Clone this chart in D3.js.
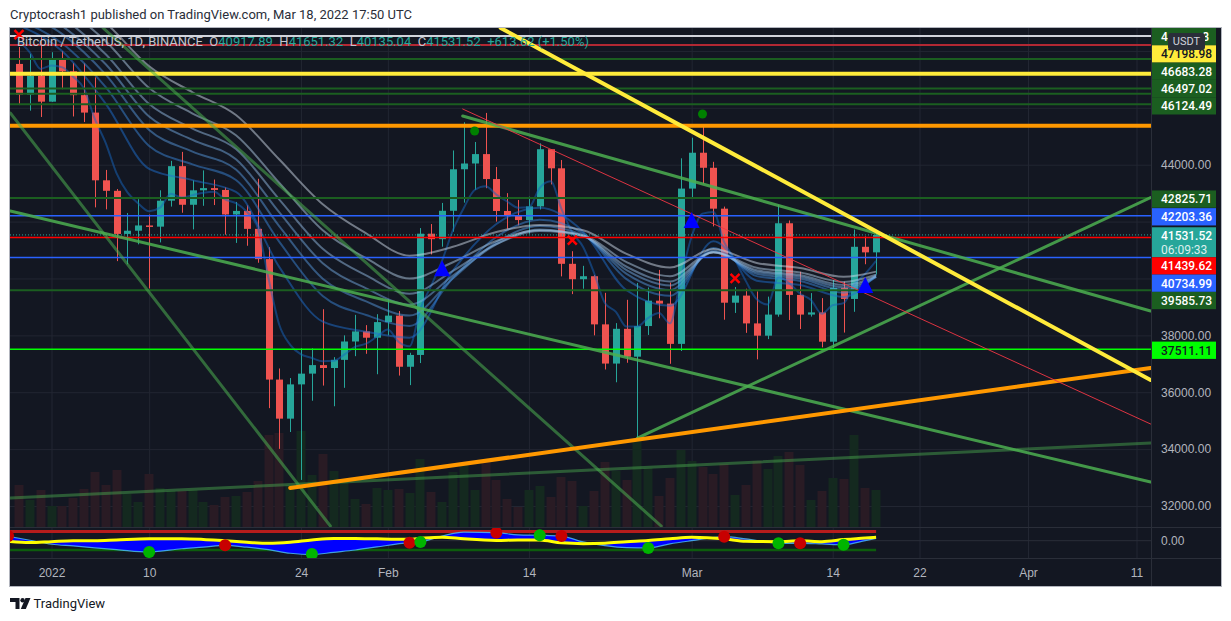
<!DOCTYPE html>
<html>
<head>
<meta charset="utf-8">
<script src="https://cdnjs.cloudflare.com/ajax/libs/d3/7.8.5/d3.min.js"></script>
<style>
  body { margin: 0; background: #fff; }
  svg { display: block; font-family: Roboto, "Liberation Sans", Arial, sans-serif; }
</style>
</head>
<body>
<svg id="chart" width="1231" height="621"></svg>
<script>
// ---- data ----
const firstCandle = Date.UTC(2021, 11, 29);
const lastCandle = Date.UTC(2022, 2, 18);

const opens = [47543, 46464, 47120, 46216, 47722, 47286, 46446, 45832, 43451, 43082,
  41566, 41679, 41864, 41822, 42735, 43949, 42591, 43099, 43177, 43113,
  42250, 42375, 41744, 40680, 36445, 35071, 36276, 36654, 36954, 36852,
  37138, 37784, 38138, 37917, 38466, 38694, 36896, 37311, 41574, 41382,
  42380, 43839, 44042, 44373, 43495, 42373, 42217, 42053, 42535, 44544,
  43873, 40515, 39974, 40079, 38386, 37008, 38230, 37250, 38327, 39219,
  39116, 37700, 43160, 44421, 43892, 42454, 39148, 39398, 38420, 37988,
  38730, 41941, 39422, 38730, 38807, 37777, 39671, 39280, 41114, 40917.89];
const highs = [48139, 47900, 48548, 47954, 47990, 47570, 47557, 47070, 43816, 43145,
  42300, 42786, 42248, 43100, 44135, 44450, 43448, 43800, 43478, 43200,
  42691, 42570, 43505, 41100, 36835, 36499, 37550, 37545, 38919, 37234,
  38000, 38720, 38359, 38744, 39265, 38855, 37387, 41772, 41913, 42656,
  44500, 45492, 44799, 45821, 43920, 43000, 42760, 42876, 44751, 44549,
  44164, 40959, 40444, 40125, 39494, 38430, 39249, 39843, 39683, 40300,
  39855, 44225, 44949, 45400, 44101, 42527, 39700, 39640, 39547, 39362,
  42594, 42039, 40236, 39486, 39309, 39947, 39887, 41718, 41478, 41651.32];
const lows = [46096, 45900, 45678, 46208, 46654, 45696, 45500, 42500, 42430, 40610,
  40501, 41200, 39650, 41268, 42528, 42311, 41725, 42555, 42581, 41540,
  41250, 41150, 40553, 35440, 34009, 34601, 32917, 35701, 36234, 35507,
  36155, 37268, 37351, 36633, 38000, 36586, 36250, 37026, 40843, 41116,
  41645, 42666, 43117, 43174, 42000, 41748, 41870, 41570, 42427, 43307,
  40073, 39450, 39639, 38000, 36800, 36350, 37036, 34322, 38014, 38600,
  37000, 37450, 42809, 43334, 41832, 38550, 38788, 38088, 37156, 37867,
  38656, 38540, 38223, 38660, 37578, 37555, 38098, 38828, 40500, 40135.04];
const closes = [46464, 47120, 46216, 47722, 47286, 46446, 45832, 43451, 43082, 41566,
  41679, 41864, 41822, 42735, 43949, 42591, 43099, 43177, 43113, 42250,
  42375, 41744, 40680, 36445, 35071, 36276, 36654, 36954, 36852, 37138,
  37784, 38138, 37917, 38466, 38694, 36896, 37311, 41574, 41382, 42380,
  43839, 44042, 44373, 43495, 42373, 42217, 42053, 42535, 44544, 43873,
  40515, 39974, 40079, 38386, 37008, 38230, 37250, 38327, 39219, 39116,
  37700, 43160, 44421, 43892, 42454, 39148, 39398, 38420, 37988, 38730,
  41941, 39422, 38730, 38807, 37777, 39671, 39280, 41114, 40917.90, 41531.52];
// volume, thousand BTC
const volumes = [42, 27, 37, 21, 21, 29, 38, 55, 42, 57,
  33, 25, 53, 39, 36, 36, 37, 25, 22, 30,
  31, 35, 46, 92, 94, 42, 96, 52, 73, 56,
  46, 28, 23, 39, 37, 38, 34, 68, 35, 25,
  55, 62, 37, 65, 47, 28, 20, 37, 41, 30,
  50, 46, 21, 36, 65, 56, 47, 89, 59, 31,
  49, 77, 66, 60, 53, 63, 32, 42, 66, 58,
  71, 75, 62, 27, 36, 49, 48, 92, 39, 37];

// EMA ribbon (fast line daily, the others every 4 days), days counted from 1 Jan 2022
const ribbonDays = [-3, 1, 5, 9, 13, 17, 21, 25, 29, 33, 37, 41, 45, 49, 53, 57, 61, 65, 69, 73, 76];
const ema5 = [48359, 47946, 47369, 47487, 47420, 47095, 46674, 45600, 44761, 43696,
  43024, 42637, 42365, 42488, 42975, 42847, 42931, 43013, 43046, 42781,
  42646, 42345, 41790, 40008, 38362, 37667, 37329, 37204, 37087, 37104,
  37331, 37600, 37706, 37959, 38204, 37768, 37616, 38935, 39751, 40627,
  41698, 42479, 43110, 43238, 42950, 42706, 42488, 42504, 43184, 43414,
  42448, 41623, 41108, 40201, 39137, 38835, 38307, 38314, 38616, 38783,
  38422, 40001, 41474, 42280, 42338, 41275, 40649, 39906, 39267, 39088,
  40039, 39833, 39465, 39246, 38756, 39061, 39134, 39794, 40168, 40622];
const ema11 = [48900, 47985, 46140, 43857, 43457, 43042, 40397, 38482, 38129, 37919, 40280, 41913, 42484, 41640, 39584, 39041, 41305, 39922, 39772, 39352, 40137];
const ema15 = [49073, 48261, 46725, 44661, 44010, 43464, 41285, 39383, 38715, 38332, 40017, 41459, 42068, 41585, 39977, 39391, 41067, 40083, 39912, 39501, 40059];
const ema18 = [49422, 48591, 47169, 45223, 44460, 43830, 41833, 39991, 39192, 38697, 40004, 41267, 41848, 41526, 40160, 39593, 40978, 40166, 39996, 39603, 40052];
const ema21 = [49696, 48869, 47532, 45694, 44870, 44191, 42323, 40536, 39651, 39078, 40099, 41200, 41719, 41491, 40295, 39754, 40932, 40231, 40065, 39690, 40063];
const ema24 = [49988, 49163, 47881, 46135, 45272, 44550, 42775, 41045, 40107, 39464, 40269, 41207, 41670, 41480, 40412, 39895, 40910, 40288, 40122, 39770, 40083];
const ema28 = [50384, 49562, 48339, 46695, 45798, 45034, 43358, 41696, 40712, 39998, 40571, 41318, 41696, 41523, 40576, 40082, 40926, 40376, 40209, 39879, 40131];
const ema34 = [50951, 50139, 48987, 47464, 46547, 45745, 44182, 42608, 41586, 40800, 41115, 41631, 41884, 41698, 40862, 40385, 41033, 40547, 40370, 40058, 40240];

// horizontal levels
const levelPrices = [48525, 48209, 47716.58, 47198.98, 46683.28, 46497.02, 46124.49, 45368,
  42825.71, 42203.36, 41439.62, 40734.99, 39585.73, 37511.11];
const levelKinds = ["white", "darkred", "green", "yellow", "green", "green", "green", "orange",
  "green", "blue", "red", "blue", "green", "lime"];
const labelled = [false, false, true, true, true, true, true, false, true, true, true, true, true, true];

// trend lines: [day1, price1, day2, price2]
const trendLines = [
  [-3.8, 42372, 101.3, 32843],
  [37.9, 45712, 101.3, 38856],
  [54.0, 34390, 101.3, 42847],
  [-3.8, 45818, 25.7, 31296],
  [4.75, 48807, 56.2, 31296],
  [-3.8, 32281, 101.3, 34214],
  [22.0, 32632, 101.3, 36850],
  [41.4, 48807, 101.3, 36430],
  [37.9, 45958, 101.3, 34883]
];
const trendKinds = ["green", "green", "green", "greenDim", "greenDim", "greenDark", "orange", "yellow", "redThin"];

// signals
const crossDays = [-3, 48, 63], crossPrices = [48571, 41352, 40006];
const triDays = [36, 59, 75], triPrices = [40357, 42056, 39770];
const dotDays = [39, 60], dotPrices = [45185, 45783];

// oscillator pane
const oscDays = [-4, -2, 0, 2, 4, 6, 9, 12, 14, 16, 18, 20, 22, 24, 26, 28, 30, 33, 34, 36,
  38, 41, 43, 45, 47, 49, 51, 53, 55, 57, 59, 62, 64, 67, 69, 71, 73, 75, 76];
const oscYellow = [-5, -12, -6, 0, 0, 5, 12, 13, 8, -1, -10, -17, -10, 5, 15, 15, 12, 9, 15, 23,
  12, 2, 5, 4, -14, -19, -16, -7, 1, 12, 22, 12, -4, -6, 0, -6, 7, 18, 22];
const oscBlue = [28, 3, -23, -34, -46, -57, -73, -52, -42, -30, -42, -58, -81, -90, -75, -60, -40, -13, -8, 30,
  55, 52, 38, 35, 30, -8, -32, -45, -47, -20, 0, 26, 12, -17, -17, -21, -26, 0, 15];
const oscDotDays = [-4, 9, 16, 24, 33, 34, 41, 45, 47, 55, 62, 67, 69, 73];
const oscDotVals = [30, -73, -30, -86, -13, -8, 52, 35, 30, -47, 26, -17, -17, -26];
const oscDotKinds = ["sell", "buy", "sell", "buy", "sell", "buy", "sell", "buy", "sell", "buy", "sell", "buy", "sell", "buy"];
const obLevel = 60, osLevel = -60;

const tickDates = ["2022-01-01", "2022-01-10", "2022-01-24", "2022-02-01", "2022-02-14",
  "2022-03-01", "2022-03-14", "2022-03-22", "2022-04-01", "2022-04-11"];
const tickLabels = ["2022", "10", "24", "Feb", "14", "Mar", "14", "22", "Apr", "11"];
const priceTicks = [32000, 34000, 36000, 38000, 40000, 42000, 44000, 46000, 48000];

// ---- layout ----
const W = 1231, H = 621;
const L = 10, R = 1151, RA = 1221, TOP = 28, MB = 527, IB = 558, BOT = 586;
const UP = "#26a69a", DN = "#ef5350";
const DAY = 864e5, T0 = Date.UTC(2022, 0, 1);
const dayDate = d => new Date(T0 + d * DAY);

const colors = {
  white: ["#d1d4dc", 2], darkred: ["#b22833", 2], green: ["#1b5e20", 2], yellow: ["#ffeb3b", 4],
  orange: ["#ff9800", 4], blue: ["#2962ff", 1.5], red: ["#ff0000", 1.5], lime: ["#00ff00", 1.5]
};
const trendStyle = {
  green: ["#4caf50", 3, 0.85], greenDim: ["#4caf50", 3, 0.55], greenDark: ["#4caf50", 3, 0.45],
  orange: ["#ff9800", 4, 1], yellow: ["#ffeb3b", 4, 1], redThin: ["#f23645", 1, 0.9]
};
const ribbonColors = ["#1565c0", "#1e6fd0", "#3a86d8", "#5698dc", "#74aadf", "#93bce3", "#b1cde6", "#cfdcea"];

const svg = d3.select("#chart");
svg.append("rect").attr("width", W).attr("height", H).attr("fill", "#fff");
svg.append("rect").attr("x", L).attr("y", TOP).attr("width", RA - L).attr("height", BOT - TOP)
  .attr("fill", "#131722");

const defs = svg.append("defs");
defs.append("clipPath").attr("id", "mainClip").append("rect")
  .attr("x", L).attr("y", TOP).attr("width", R - L).attr("height", MB - TOP);
defs.append("clipPath").attr("id", "indClip").append("rect")
  .attr("x", L).attr("y", MB).attr("width", R - L).attr("height", IB - MB);

const x = d3.scaleUtc().domain([dayDate(0), dayDate(100)]).range([51.5, 1136.5]);
const y = d3.scaleLinear().domain([32000, 44000]).range([506, 164.7]);
const yVol = d3.scaleLinear().domain([0, 100]).range([MB, MB - 100]);
const yOsc = d3.scaleLinear().domain([osLevel, obLevel]).range([550, 531.4]);
const tDates = tickDates.map(s => new Date(s + "T00:00:00Z"));

// ---- grid ----
const gridY = svg.append("g").attr("transform", `translate(${L},0)`)
  .call(d3.axisRight(y).tickValues(priceTicks).tickSize(R - L).tickFormat(""));
gridY.select(".domain").remove();
gridY.selectAll("line").attr("stroke", "#222632");
const gridX = svg.append("g").attr("transform", `translate(0,${IB})`)
  .call(d3.axisTop(x).tickValues(tDates).tickSize(IB - TOP).tickFormat(""));
gridX.select(".domain").remove();
gridX.selectAll("line").attr("stroke", "#222632");
svg.append("line").attr("x1", L).attr("x2", R).attr("y1", yOsc(0)).attr("y2", yOsc(0)).attr("stroke", "#2a2e39");

// ---- main pane ----
const main = svg.append("g").attr("clip-path", "url(#mainClip)");
const candleDates = d3.utcDay.range(new Date(firstCandle), new Date(lastCandle + DAY));
const candles = candleDates.map((d, i) => ({ d, o: opens[i], h: highs[i], l: lows[i], c: closes[i], v: volumes[i] }));
const cx = d => Math.round(x(d.d));

main.append("g").selectAll("rect").data(candles).join("rect")
  .attr("x", d => cx(d) - 4.5).attr("width", 9)
  .attr("y", d => yVol(d.v)).attr("height", d => MB - yVol(d.v))
  .attr("fill", d => d.c >= d.o ? "#14291f" : "#291b24");

main.append("g").selectAll("line").data(candles).join("line")
  .attr("x1", d => cx(d) + 0.5).attr("x2", d => cx(d) + 0.5)
  .attr("y1", d => y(d.h)).attr("y2", d => y(d.l))
  .attr("stroke", d => d.c >= d.o ? UP : DN);
main.append("g").selectAll("rect").data(candles).join("rect")
  .attr("x", d => cx(d) - 3).attr("width", 7)
  .attr("y", d => y(Math.max(d.o, d.c)))
  .attr("height", d => Math.max(1.5, Math.abs(y(d.o) - y(d.c))))
  .attr("fill", d => d.c >= d.o ? UP : DN);

// ribbon
const ribbonLine = d3.line().x(d => x(d[0])).y(d => y(d[1])).curve(d3.curveMonotoneX);
const ribbon = [candleDates.map((d, i) => [d, ema5[i]])]
  .concat([ema11, ema15, ema18, ema21, ema24, ema28, ema34]
    .map(arr => arr.map((v, i) => [dayDate(ribbonDays[i]), v])));
main.append("g").selectAll("path").data(ribbon).join("path")
  .attr("d", ribbonLine).attr("fill", "none")
  .attr("stroke", (d, i) => ribbonColors[i]).attr("stroke-width", 2).attr("stroke-opacity", 0.5);

// horizontal levels
main.append("g").selectAll("line").data(levelPrices).join("line")
  .attr("x1", L).attr("x2", R).attr("y1", d => y(d)).attr("y2", d => y(d))
  .attr("stroke", (d, i) => colors[levelKinds[i]][0])
  .attr("stroke-width", (d, i) => colors[levelKinds[i]][1]);
main.append("line").attr("x1", L).attr("x2", R)
  .attr("y1", y(closes[closes.length - 1])).attr("y2", y(closes[closes.length - 1]))
  .attr("stroke", UP).attr("stroke-dasharray", "1,2");

// trend lines
main.append("g").selectAll("line").data(trendLines).join("line")
  .attr("x1", d => x(dayDate(d[0]))).attr("y1", d => y(d[1]))
  .attr("x2", d => x(dayDate(d[2]))).attr("y2", d => y(d[3]))
  .attr("stroke", (d, i) => trendStyle[trendKinds[i]][0])
  .attr("stroke-width", (d, i) => trendStyle[trendKinds[i]][1])
  .attr("stroke-opacity", (d, i) => trendStyle[trendKinds[i]][2])
  .attr("stroke-linecap", "round");

// signals
crossDays.forEach((dd, i) => {
  const px = x(dayDate(dd)), py = y(crossPrices[i]), s = 4.5;
  main.append("path").attr("d", `M${px - s},${py - s}L${px + s},${py + s}M${px + s},${py - s}L${px - s},${py + s}`)
    .attr("stroke", "#ff0000").attr("stroke-width", 2.5);
});
main.append("g").selectAll("path").data(triDays).join("path")
  .attr("d", (dd, i) => {
    const px = x(dayDate(dd)), py = y(triPrices[i]);
    return `M${px},${py - 8}L${px + 8},${py + 8}L${px - 8},${py + 8}Z`;
  })
  .attr("fill", "#0000ff");
main.append("g").selectAll("circle").data(dotDays).join("circle")
  .attr("cx", dd => x(dayDate(dd))).attr("cy", (dd, i) => y(dotPrices[i])).attr("r", 4.5)
  .attr("fill", "#008000");

// ---- oscillator pane ----
const ind = svg.append("g").attr("clip-path", "url(#indClip)");
const oscX = d3.min(oscDays), oscEnd = d3.max(oscDays);
ind.append("line").attr("x1", x(dayDate(oscX))).attr("x2", x(dayDate(oscEnd)))
  .attr("y1", yOsc(obLevel)).attr("y2", yOsc(obLevel)).attr("stroke", "#b71c1c").attr("stroke-width", 3);
ind.append("line").attr("x1", x(dayDate(oscX))).attr("x2", x(dayDate(oscEnd)))
  .attr("y1", yOsc(osLevel)).attr("y2", yOsc(osLevel)).attr("stroke", "#0d5c0d").attr("stroke-width", 2.5);
const oscPts = oscDays.map((dd, i) => ({ d: dayDate(dd), a: oscYellow[i], b: oscBlue[i] }));
ind.append("path").datum(oscPts)
  .attr("d", d3.area().x(p => x(p.d)).y0(p => yOsc(p.a)).y1(p => yOsc(p.b)).curve(d3.curveMonotoneX))
  .attr("fill", "#0000ff");
ind.append("path").datum(oscPts)
  .attr("d", d3.line().x(p => x(p.d)).y(p => yOsc(p.b)).curve(d3.curveMonotoneX))
  .attr("fill", "none").attr("stroke", "#4fc3f7").attr("stroke-width", 1.2).attr("stroke-opacity", 0.8);
ind.append("path").datum(oscPts)
  .attr("d", d3.line().x(p => x(p.d)).y(p => yOsc(p.a)).curve(d3.curveMonotoneX))
  .attr("fill", "none").attr("stroke", "#ffff00").attr("stroke-width", 3);
ind.append("g").selectAll("circle").data(oscDotDays).join("circle")
  .attr("cx", dd => x(dayDate(dd))).attr("cy", (dd, i) => yOsc(oscDotVals[i])).attr("r", 6)
  .attr("fill", (dd, i) => oscDotKinds[i] === "buy" ? "#00b400" : "#c80000");

// ---- separators & frame ----
const sep = "#2a2e39";
svg.append("line").attr("x1", R + 0.5).attr("x2", R + 0.5).attr("y1", TOP).attr("y2", BOT).attr("stroke", sep);
[MB, IB].forEach(v => svg.append("line").attr("x1", L).attr("x2", RA).attr("y1", v + 0.5).attr("y2", v + 0.5).attr("stroke", sep));
svg.append("rect").attr("x", L - 0.5).attr("y", TOP - 0.5).attr("width", RA - L + 1).attr("height", BOT - TOP + 1)
  .attr("fill", "none").attr("stroke", "#b2b5be");

// ---- price axis labels ----
const fmt = d3.format(".2f");
const LH = 17.3;
let labs = levelPrices.map((p, i) => ({ p, i })).filter(o => labelled[o.i]).map(o => ({
  p: o.p, text: fmt(o.p), bg: colors[levelKinds[o.i]][0],
  fg: (levelKinds[o.i] === "yellow" || levelKinds[o.i] === "lime") ? "#131722" : "#ffffff", h: LH
}));
const lastClose = closes[closes.length - 1];
labs.push({ p: lastClose, text: fmt(lastClose), sub: "06:09:33", bg: UP, fg: "#ffffff", h: 30, cur: true });
labs.forEach(l => l.top = y(l.p) - LH / 2 + 1);
labs.sort((a, b) => a.top - b.top);
const ci = labs.findIndex(l => l.cur);
for (let i = ci - 1; i >= 0; i--) {
  const lim = labs[i + 1].top;
  if (labs[i].top + labs[i].h > lim) labs[i].top = lim - labs[i].h;
}
// keep labels inside the axis, pushing the stack back down
if (labs[0].top < TOP) labs[0].top = TOP;
for (let i = 1; i < labs.length; i++) {
  const lim = labs[i - 1].top + labs[i - 1].h;
  if (labs[i].top < lim) labs[i].top = lim;
}

const shownTicks = priceTicks.filter(t => {
  const ty = y(t);
  return ty > TOP + 6 && ty < MB - 6 && !labs.some(l => ty > l.top - 4 && ty < l.top + l.h + 4);
});
const yAx = svg.append("g").attr("transform", `translate(${R},0)`)
  .call(d3.axisRight(y).tickValues(shownTicks).tickSize(0).tickPadding(10).tickFormat(fmt));
yAx.select(".domain").remove();
yAx.selectAll("text").attr("fill", "#b2b5be").attr("font-size", 12).attr("font-family", null);
const oAx = svg.append("g").attr("transform", `translate(${R},0)`)
  .call(d3.axisRight(yOsc).tickValues([0]).tickSize(0).tickPadding(10).tickFormat(fmt));
oAx.select(".domain").remove();
oAx.selectAll("text").attr("fill", "#b2b5be").attr("font-size", 12).attr("font-family", null);

// currency badge, drawn over the top label as in the picture
const badge = { x: 1168, y: 33, w: 37, h: 17 };
const lg = svg.append("g");
labs.forEach(l => {
  lg.append("rect").attr("x", R + 1).attr("y", l.top).attr("width", 64).attr("height", l.h).attr("fill", l.bg);
  const ty = l.top + 13;
  if (l.top + l.h / 2 < badge.y + badge.h) {
    // only the ends of this label stay visible beside the badge
    lg.append("text").attr("x", R + 10).attr("y", ty).text(l.text.slice(0, 1))
      .attr("fill", l.fg).attr("font-size", 12).attr("font-weight", 500);
    lg.append("text").attr("x", R + 58).attr("y", ty).attr("text-anchor", "end").text(l.text.slice(-1))
      .attr("fill", l.fg).attr("font-size", 12).attr("font-weight", 500);
  } else {
    lg.append("text").attr("x", R + 10).attr("y", ty).text(l.text)
      .attr("fill", l.fg).attr("font-size", 12).attr("font-weight", 500);
  }
  if (l.sub) lg.append("text").attr("x", R + 10).attr("y", l.top + 26.5).text(l.sub)
    .attr("fill", l.fg).attr("font-size", 12).attr("fill-opacity", 0.85);
});
lg.append("rect").attr("x", badge.x).attr("y", badge.y).attr("width", badge.w).attr("height", badge.h)
  .attr("rx", 3).attr("fill", "#2a2e39");
lg.append("text").attr("x", badge.x + badge.w / 2).attr("y", badge.y + 12).attr("text-anchor", "middle").text("USDT")
  .attr("fill", "#d1d4dc").attr("font-size", 11);

// ---- time axis ----
const xAx = svg.append("g").attr("transform", `translate(0,${IB})`)
  .call(d3.axisBottom(x).tickValues(tDates).tickSize(0).tickPadding(10).tickFormat((d, i) => tickLabels[i]));
xAx.select(".domain").remove();
xAx.selectAll("text").attr("fill", "#b2b5be").attr("font-size", 12).attr("font-family", null);

// ---- header / page texts ----
const n = closes.length - 1;
const chg = closes[n] - closes[n - 1];
const head = svg.append("text").attr("x", 17).attr("y", 45.5).attr("font-size", 13)
  .style("white-space", "pre");
const gray = "#c3c6ce";
[["Bitcoin / TetherUS, 1D, BINANCE  ", gray], ["O", gray], [fmt(opens[n]), UP],
 ["  H", gray], [fmt(highs[n]), UP], ["  L", gray], [fmt(lows[n]), UP],
 ["  C", gray], [fmt(closes[n]), UP],
 ["  " + (chg >= 0 ? "+" : "") + fmt(chg) + " (" + (chg >= 0 ? "+" : "") + fmt(chg / closes[n - 1] * 100) + "%)", UP]
].forEach(([t, c]) => head.append("tspan").text(t).attr("fill", c));

svg.append("text").attr("x", 10).attr("y", 19).attr("font-size", 13).attr("fill", "#2a2e39")
  .text("Cryptocrash1 published on TradingView.com, Mar 18, 2022 17:50 UTC");

const logo = svg.append("g").attr("fill", "#131722");
logo.append("path").attr("d", "M10,598H19.5V609H15.5V602H10Z");
logo.append("circle").attr("cx", 22.6).attr("cy", 600.2).attr("r", 2.2);
logo.append("path").attr("d", "M25.5,598H30.5L25.8,609H20.8Z");
svg.append("text").attr("x", 33.5).attr("y", 608).attr("font-size", 13).attr("fill", "#131722").text("TradingView");
</script>
</body>
</html>
